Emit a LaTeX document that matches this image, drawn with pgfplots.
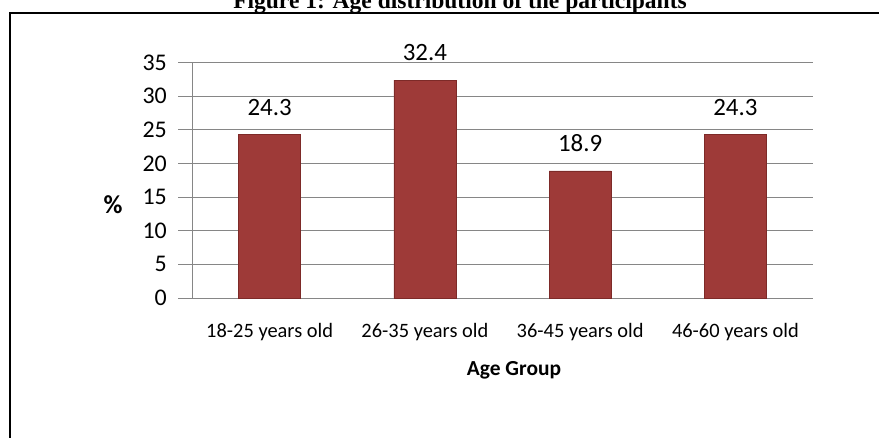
\documentclass[border=0pt]{standalone}
\usepackage{pgfplots}
\pgfplotsset{compat=1.18}
\usepackage{fontspec}
\setmainfont{Carlito}
\newfontfamily\timesfont{Liberation Serif}
\definecolor{barred}{RGB}{158,58,56}
\definecolor{bardark}{RGB}{125,42,40}
\definecolor{gridgray}{RGB}{134,134,134}
\begin{document}
\begin{tikzpicture}[x=1bp,y=1bp]
\draw[line width=1.5bp] (900,-13) -- (10,-13) -- (10,-460);
\node[anchor=base, inner sep=0pt, font=\timesfont\bfseries\fontsize{23.6}{28}\selectfont] at (460,-9) {Figure 1: Age distribution of the participants};
\begin{axis}[
  at={(192bp,-298bp)}, anchor=south west,
  scale only axis, width=621bp, height=235.3bp,
  xmin=-0.5, xmax=3.5, ymin=0, ymax=35,
  axis x line*=bottom, axis y line*=left,
  axis line style={gridgray, line width=1bp},
  ytick={0,5,10,15,20,25,30,35},
  xtick=\empty,
  minor xtick={-0.5,0.5,1.5,2.5,3.5},
  extra x ticks={0,1,2,3},
  extra x tick labels={18-25 years old, 26-35 years old, 36-45 years old, 46-60 years old},
  extra x tick style={major tick length=0pt, grid=none},
  tick align=outside,
  tick style={gridgray, line width=1bp},
  major tick length=14bp,
  minor tick length=7bp,
  ymajorgrids, grid style={gridgray, line width=1bp},
  /pgf/number format/assume math mode=true,
  yticklabel style={font=\fontsize{24}{28}\selectfont, anchor=east, inner sep=0pt, xshift=-11bp},
  xticklabel style={font=\fontsize{20.5}{24}\selectfont, anchor=base, inner sep=0pt, yshift=-39bp},
  xlabel={Age Group},
  xlabel style={font=\bfseries\fontsize{21.5}{25}\selectfont, at={(axis description cs:0.5185,0)}, anchor=base, inner sep=0pt, yshift=-77bp},
  ylabel={\%},
  ylabel style={font=\bfseries\fontsize{26}{30}\selectfont, rotate=-90, at={(axis description cs:-0.127,0.395)}, anchor=center, inner sep=0pt},
  clip=false,
]
\addplot[ybar, bar width=62bp, fill=barred, draw=bardark, line width=0.6bp,
  nodes near coords,
  nodes near coords style={font=\fontsize{25}{30}\selectfont, anchor=south, inner sep=0pt, yshift=19bp, black}]
  coordinates {(0,24.3) (1,32.4) (2,18.9) (3,24.3)};
\end{axis}
\pgfresetboundingbox
\path[use as bounding box] (0,0) rectangle (879,-438);
\end{tikzpicture}
\end{document}
